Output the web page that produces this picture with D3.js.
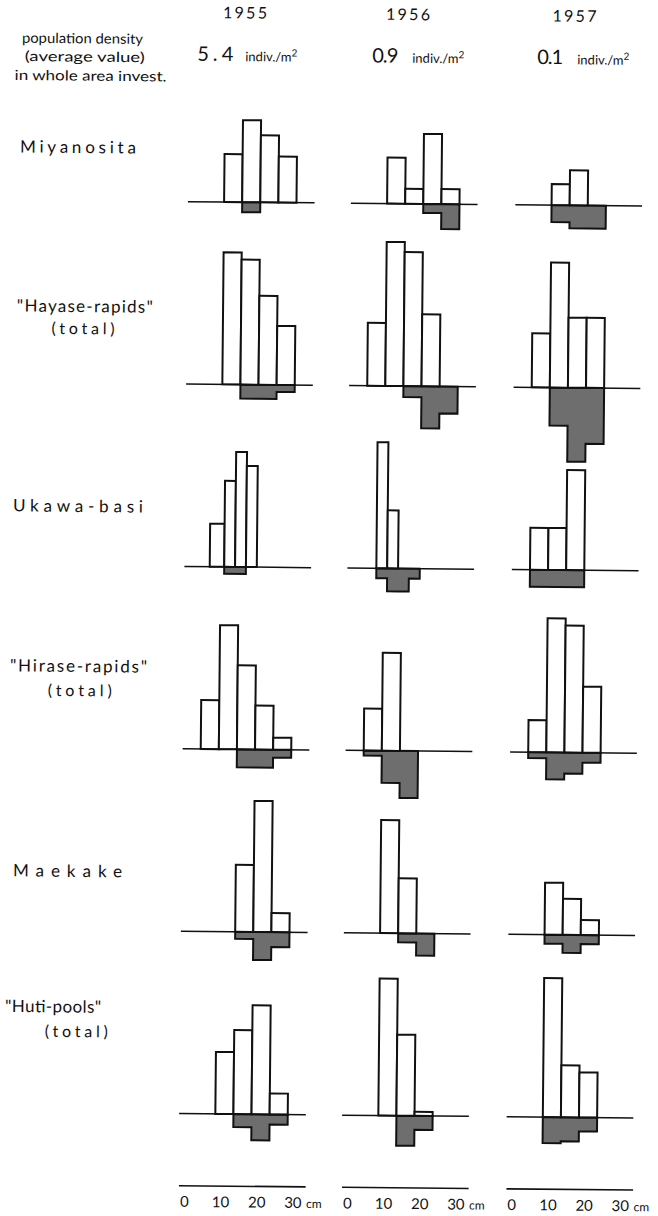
<!DOCTYPE html>
<html>
<head>
<meta charset="utf-8">
<style>
  body { margin: 0; background: #fff; }
  text { font-family: Lato, "DejaVu Sans", sans-serif; fill: #111; }
</style>
</head>
<body>
<svg id="chart" width="658" height="1216"></svg>
<script src="https://d3js.org/d3.v7.min.js"></script>
<script>
// years and mean density over the whole area investigated
var years = ['1955', '1956', '1957'];
var densities = ['5.4', '0.9', '0.1'];

var sites = ['Miyanosita', '"Hayase-rapids"', 'Ukawa-basi', '"Hirase-rapids"', 'Maekake', '"Huti-pools"'];
var siteNotes = ['', '(total)', '', '(total)', '', '(total)'];

// body length classes, cm (5 cm classes; Ukawa-basi 1955/56 in 3 cm classes)
var classes5 = [5, 10, 15, 20, 25, 30];
var ukawa55 = [7, 11, 14, 17, 20];
var ukawa56 = [8, 11, 14, 17, 20];
var scaleTicks = [0, 10, 20, 30];

// open bars above the line: one list per year, one value per class
var upMiyanosita = [[0, 48, 82, 67, 46], [0, 46, 15, 70, 15], [0, 21, 35, 0, 0]];
var upHayase     = [[0, 132, 125, 89, 59], [63, 144, 134, 72, 0], [54, 125, 70, 70, 0]];
var upUkawa      = [[43, 86, 115, 101], [126, 58, 0, 0], [42, 42, 100, 0, 0]];
var upHirase     = [[49, 124, 84, 44, 12], [42, 98, 0, 0, 0], [32, 134, 127, 66, 0]];
var upMaekake    = [[0, 0, 67, 131, 19], [0, 113, 55, 0, 0], [0, 52, 36, 15, 0]];
var upHuti       = [[0, 62, 84, 109, 21], [0, 137, 81, 4, 0], [0, 139, 52, 45, 0]];

// shaded part below the line
var downMiyanosita = [[0, 0, 10, 0, 0], [0, 0, 0, 9, 25], [0, 17, 23, 23, 0]];
var downHayase     = [[0, 0, 14, 14, 7], [0, 0, 11, 42, 27], [0, 38, 74, 56, 0]];
var downUkawa      = [[0, 7, 7, 0], [10, 23, 23, 10], [17, 17, 17, 0, 0]];
var downHirase     = [[0, 0, 18, 18, 8], [5, 32, 47, 0, 0], [6, 27, 21, 10, 0]];
var downMaekake    = [[0, 0, 7, 28, 15], [0, 0, 9, 22, 0], [0, 9, 18, 9, 0]];
var downHuti       = [[0, 0, 13, 26, 10], [0, 0, 30, 14, 0], [0, 26, 24, 14, 0]];

var upper = [upMiyanosita, upHayase, upUkawa, upHirase, upMaekake, upHuti];
var lower = [downMiyanosita, downHayase, downUkawa, downHirase, downMaekake, downHuti];

// layout
var colLeft = [184, 347, 511.5];
var plotW = 126.7;
var rowBase = d3.range(6).map(function(i) { return 203 + 182.4 * i; });
var scaleY = 1186.6;
var labelPos = [[15.6, 155.4, 116], [14, 314.5, 136], [12, 514.4, 130], [10.6, 674.4, 137], [15.6, 879.4, 109], [9, 1015, 96]];
var notePos = [null, [49, 336.5, 63], null, [48.6, 698.5, 64], null, [49, 1039.5, 63]];
var yearX = [239.3, 402.3, 568.8];
var densX = [[192, 36, 240], [367, 26, 407], [532, 26, 572]];

var svg = d3.select('#chart');
// the original page was scanned slightly askew
var g = svg.append('g').attr('transform', 'rotate(0.55 329 608)');

var y = d3.scaleLinear().domain([0, 150]).range([0, 150]);
var xs = colLeft.map(function(l) {
  return d3.scaleLinear().domain([0, 35]).range([l, l + plotW]);
});

var panels = [];
sites.forEach(function(s, r) {
  years.forEach(function(yr, c) {
    var edges = classes5;
    if (r === 2 && c === 0) edges = ukawa55;
    if (r === 2 && c === 1) edges = ukawa56;
    panels.push({row: r, col: c, edges: edges, up: upper[r][c], down: lower[r][c]});
  });
});

panels.forEach(function(p) {
  var x = xs[p.col], base = rowBase[p.row];
  var pg = g.append('g');

  // shaded step outline below the line
  var idx = [];
  p.down.forEach(function(v, i) { if (v > 0) idx.push(i); });
  if (idx.length) {
    var i0 = idx[0], i1 = idx[idx.length - 1];
    var pts = [[x(p.edges[i0]), base]];
    for (var i = i0; i <= i1; i++) {
      pts.push([x(p.edges[i]), base + y(p.down[i])]);
      pts.push([x(p.edges[i + 1]), base + y(p.down[i])]);
    }
    pts.push([x(p.edges[i1 + 1]), base]);
    pg.append('path')
      .attr('d', d3.line()(pts) + 'Z')
      .attr('fill', '#6e6e6e')
      .attr('stroke', '#111')
      .attr('stroke-width', 2)
      .attr('stroke-linejoin', 'miter');
  }

  var bars = [];
  p.up.forEach(function(v, i) {
    if (v > 0) bars.push({v: v, lo: p.edges[i], hi: p.edges[i + 1]});
  });
  pg.selectAll('rect').data(bars).join('rect')
    .attr('x', function(d) { return x(d.lo); })
    .attr('width', function(d) { return x(d.hi) - x(d.lo); })
    .attr('y', function(d) { return base - y(d.v); })
    .attr('height', function(d) { return y(d.v); })
    .attr('fill', '#fff')
    .attr('stroke', '#111')
    .attr('stroke-width', 2);

  pg.append('line')
    .attr('x1', x(0)).attr('x2', x(35))
    .attr('y1', base).attr('y2', base)
    .attr('stroke', '#111')
    .attr('stroke-width', 1.5);
});

// length scales at the bottom
xs.forEach(function(x) {
  var ax = g.append('g')
    .attr('transform', 'translate(0,' + scaleY + ')')
    .call(d3.axisBottom(x).tickValues(scaleTicks).tickSize(0).tickSizeOuter(0).tickPadding(11));
  ax.select('.domain').attr('stroke', '#111').attr('stroke-width', 1.6);
  ax.selectAll('.tick text')
    .attr('dx', 5.5)
    .style('font-size', '15px')
    .attr('fill', '#111');
  g.append('text')
    .attr('x', x(35) + 1).attr('y', scaleY + 21.6)
    .style('font-size', '12px')
    .text('cm');
});

// header
g.selectAll('.year').data(years).join('text')
  .attr('class', 'year')
  .attr('x', function(d, i) { return yearX[i]; })
  .attr('y', 19.3)
  .attr('text-anchor', 'middle')
  .attr('textLength', 44)
  .attr('lengthAdjust', 'spacing')
  .style('font-size', '16px')
  .text(function(d) { return d; });

densities.forEach(function(d, i) {
  g.append('text')
    .attr('x', densX[i][0]).attr('y', 62)
    .attr('textLength', densX[i][1]).attr('lengthAdjust', 'spacing')
    .style('font-size', '20px')
    .text(d);
  var t = g.append('text')
    .attr('x', densX[i][2]).attr('y', 62)
    .style('font-size', '13px');
  t.append('tspan').text('indiv./m');
  t.append('tspan').attr('dy', -5).style('font-size', '10px').text('2');
});

var headLines = [['population density', 16.5, 45.7, 121], ['(average value)', 19.5, 64, 120], ['in whole area invest.', 9.5, 83, 152]];
headLines.forEach(function(h) {
  g.append('text')
    .attr('x', h[1]).attr('y', h[2])
    .attr('textLength', h[3]).attr('lengthAdjust', 'spacingAndGlyphs')
    .style('font-size', '14px')
    .text(h[0]);
});

// site names
sites.forEach(function(s, r) {
  var lp = labelPos[r];
  g.append('text')
    .attr('x', lp[0]).attr('y', lp[1])
    .attr('textLength', lp[2]).attr('lengthAdjust', 'spacing')
    .style('font-size', '17px')
    .text(s);
  if (siteNotes[r]) {
    var np = notePos[r];
    g.append('text')
      .attr('x', np[0]).attr('y', np[1])
      .attr('textLength', np[2]).attr('lengthAdjust', 'spacing')
      .style('font-size', '16px')
      .text(siteNotes[r]);
  }
});
</script>
</body>
</html>
